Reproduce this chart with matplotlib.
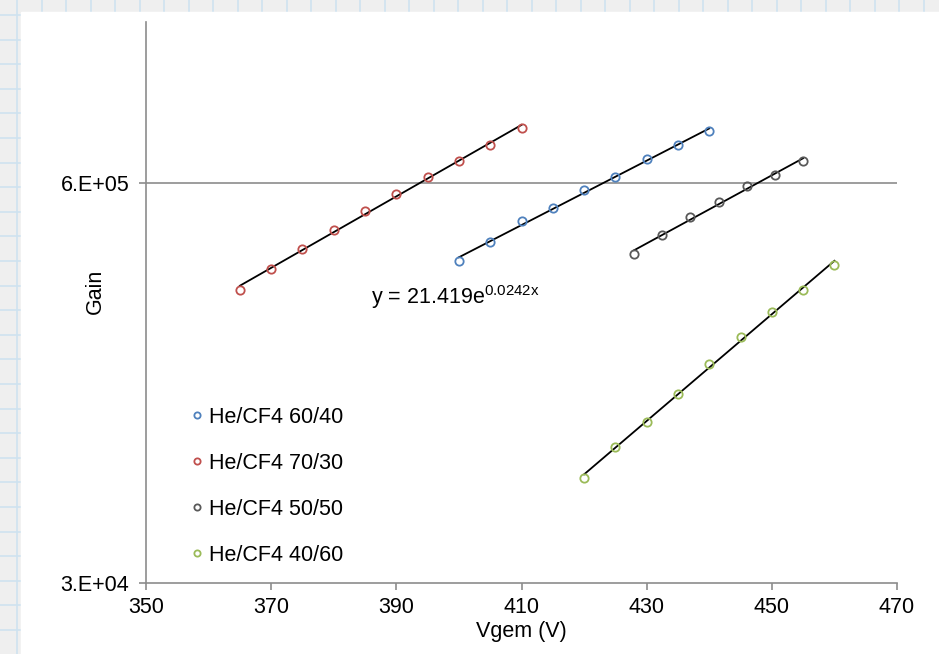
import numpy as np
import matplotlib
matplotlib.use("Agg")
import matplotlib.pyplot as plt
from matplotlib.patches import Rectangle

plt.rcParams['font.family'] = ['Liberation Sans', 'DejaVu Sans']
plt.rcParams['mathtext.default'] = 'regular'

# gain vs GEM voltage, four gas mixtures
v_6040 = [400, 405, 410, 415, 420, 425, 430, 435, 440]
g_6040 = [3.33e5, 3.84e5, 4.52e5, 4.97e5, 5.67e5, 6.27e5, 7.15e5, 7.94e5, 8.84e5]

v_7030 = [365, 370, 375, 380, 385, 390, 395, 400, 405, 410]
g_7030 = [2.69e5, 3.14e5, 3.66e5, 4.21e5, 4.86e5, 5.53e5, 6.28e5, 7.08e5, 7.96e5, 9.06e5]

v_5050 = [428, 432.5, 437, 441.5, 446, 450.5, 455]
g_5050 = [3.53e5, 4.07e5, 4.63e5, 5.21e5, 5.84e5, 6.36e5, 7.08e5]

v_4060 = [420, 425, 430, 435, 440, 445, 450, 455, 460]
g_4060 = [6.57e4, 8.29e4, 1.004e5, 1.239e5, 1.547e5, 1.89e5, 2.284e5, 2.69e5, 3.25e5]

labels = ["He/CF4 60/40", "He/CF4 70/30", "He/CF4 50/50", "He/CF4 40/60"]
colors = ["#4f81bd", "#c0504d", "#595959", "#9bbb59"]

W, H = 939, 654
fig = plt.figure(figsize=(W / 100, H / 100), dpi=100)

# graph-paper backdrop with white panel
bg = fig.add_axes([0, 0, 1, 1], zorder=-5)
bg.set_xlim(0, W)
bg.set_ylim(H, 0)
bg.axis("off")
bg.add_patch(Rectangle((0, 0), W, H, color="#efefef", zorder=0))
for gx in np.arange(17, W, 24.5):
    bg.axvline(gx, color="#cfe2f0", lw=1.2, zorder=1)
for gy in np.arange(15, H, 24.6):
    bg.axhline(gy, color="#cfe2f0", lw=1.2, zorder=1)
bg.add_patch(Rectangle((21, 12), W, H, color="white", zorder=2))

ax = fig.add_axes([146 / W, 1 - 583 / H, 751 / W, 561 / H])
ax.set_facecolor("none")

series = [(v_6040, g_6040), (v_7030, g_7030), (v_5050, g_5050), (v_4060, g_4060)]
for (vx, gy), lab, c in zip(series, labels, colors):
    vx = np.array(vx)
    gy = np.array(gy)
    k, b = np.polyfit(vx, np.log(gy), 1)
    xx = np.linspace(vx.min(), vx.max(), 50)
    ax.plot(xx, np.exp(b + k * xx), color="black", lw=1.3, zorder=2)
    ax.plot(vx, gy, "o", mfc="none", mec=c, mew=1.3, ms=6, label=lab, zorder=3)

ax.set_yscale("log")
ax.set_xlim(350, 470)
ax.set_ylim(3e4, 2e6)
ax.set_xticks(range(350, 471, 20))
ax.set_yticks([3e4, 6e5])
ax.set_yticklabels(["3.E+04", "6.E+05"])
ax.yaxis.set_minor_locator(matplotlib.ticker.NullLocator())
ax.axhline(6e5, color="#8c8c8c", lw=1.2, zorder=1)

for s in ["top", "right"]:
    ax.spines[s].set_visible(False)
for s in ["left", "bottom"]:
    ax.spines[s].set_color("#8c8c8c")
    ax.spines[s].set_linewidth(1.2)
ax.tick_params(axis="both", colors="#8c8c8c", labelcolor="black", labelsize=15.5,
               length=5, width=1.2)
ax.tick_params(axis="y", pad=7)
ax.tick_params(axis="x", pad=5)

ax.set_xlabel("Vgem (V)", fontsize=15.5, labelpad=2)
ax.set_ylabel("Gain", fontsize=15.5)
ax.yaxis.set_label_coords(-0.054, 0.52)

ax.text(386, 2.42e5, r"y = 21.419e$^{0.0242x}$", fontsize=15.5, ha="left", va="baseline")

ax.legend(loc="upper left", bbox_to_anchor=(0.036, 0.349), frameon=False, fontsize=15.5,
          handlelength=0.4, handletextpad=0.38, labelspacing=1.16, markerscale=0.75)

fig.savefig("out.png", dpi=100)
